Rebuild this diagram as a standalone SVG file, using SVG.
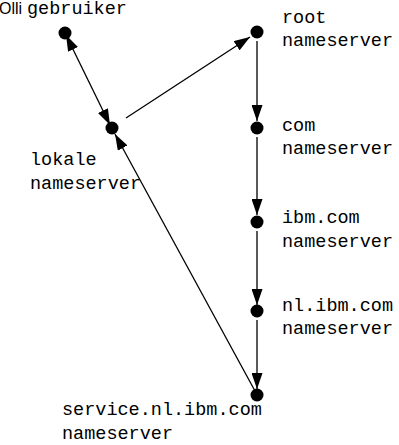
<svg xmlns="http://www.w3.org/2000/svg" width="399" height="445" viewBox="0 0 399 445">
<style>
.t{font-family:"Liberation Mono","Courier New",monospace;font-size:18.5px;fill:#000}
.s{font-family:"Liberation Sans",Arial,sans-serif;font-size:16px;fill:#000}
.e{stroke:#000;stroke-width:1.3;fill:none}
.n{fill:#000}
</style>
<defs>
<marker id="ah" viewBox="0 0 16 11" refX="16" refY="5.5" markerWidth="16" markerHeight="11" markerUnits="userSpaceOnUse" orient="auto-start-reverse">
<path d="M0,0 L16,5.5 L0,11 Z" fill="#000"/>
</marker>
</defs>
<rect width="399" height="445" fill="#fff"/>
<g id="connectors">
<line class="e" x1="66" y1="35" x2="110" y2="125" marker-start="url(#ah)" marker-end="url(#ah)"/>
<line class="e" x1="126" y1="118" x2="250" y2="37" marker-end="url(#ah)"/>
<line class="e" x1="257" y1="41" x2="257" y2="121" marker-end="url(#ah)"/>
<line class="e" x1="257" y1="137" x2="257" y2="215" marker-end="url(#ah)"/>
<line class="e" x1="257" y1="231" x2="257" y2="305" marker-end="url(#ah)"/>
<line class="e" x1="257" y1="320" x2="257" y2="389" marker-end="url(#ah)"/>
<line class="e" x1="255" y1="391" x2="115" y2="134" marker-end="url(#ah)"/>
</g>
<g id="gebruiker">
<circle class="n" cx="65" cy="33" r="6.5"/>
<text class="s" x="-1" y="14">Olli</text>
<text class="t" x="27" y="14">gebruiker</text>
</g>
<g id="lokale">
<circle class="n" cx="112" cy="128" r="6.5"/>
<text class="t" x="30" y="165">lokale</text>
<text class="t" x="30" y="189">nameserver</text>
</g>
<g id="root">
<circle class="n" cx="257" cy="32" r="6.5"/>
<text class="t" x="282" y="23">root</text>
<text class="t" x="282" y="46">nameserver</text>
</g>
<g id="com">
<circle class="n" cx="257" cy="128" r="6.5"/>
<text class="t" x="282" y="131">com</text>
<text class="t" x="282" y="154">nameserver</text>
</g>
<g id="ibm">
<circle class="n" cx="257" cy="222" r="6.5"/>
<text class="t" x="282" y="223">ibm.com</text>
<text class="t" x="282" y="247">nameserver</text>
</g>
<g id="nl">
<circle class="n" cx="257" cy="311" r="6.5"/>
<text class="t" x="282" y="311">nl.ibm.com</text>
<text class="t" x="282" y="334">nameserver</text>
</g>
<g id="service">
<circle class="n" cx="257" cy="395" r="6.5"/>
<text class="t" x="62" y="415">service.nl.ibm.com</text>
<text class="t" x="62" y="439">nameserver</text>
</g>
</svg>
